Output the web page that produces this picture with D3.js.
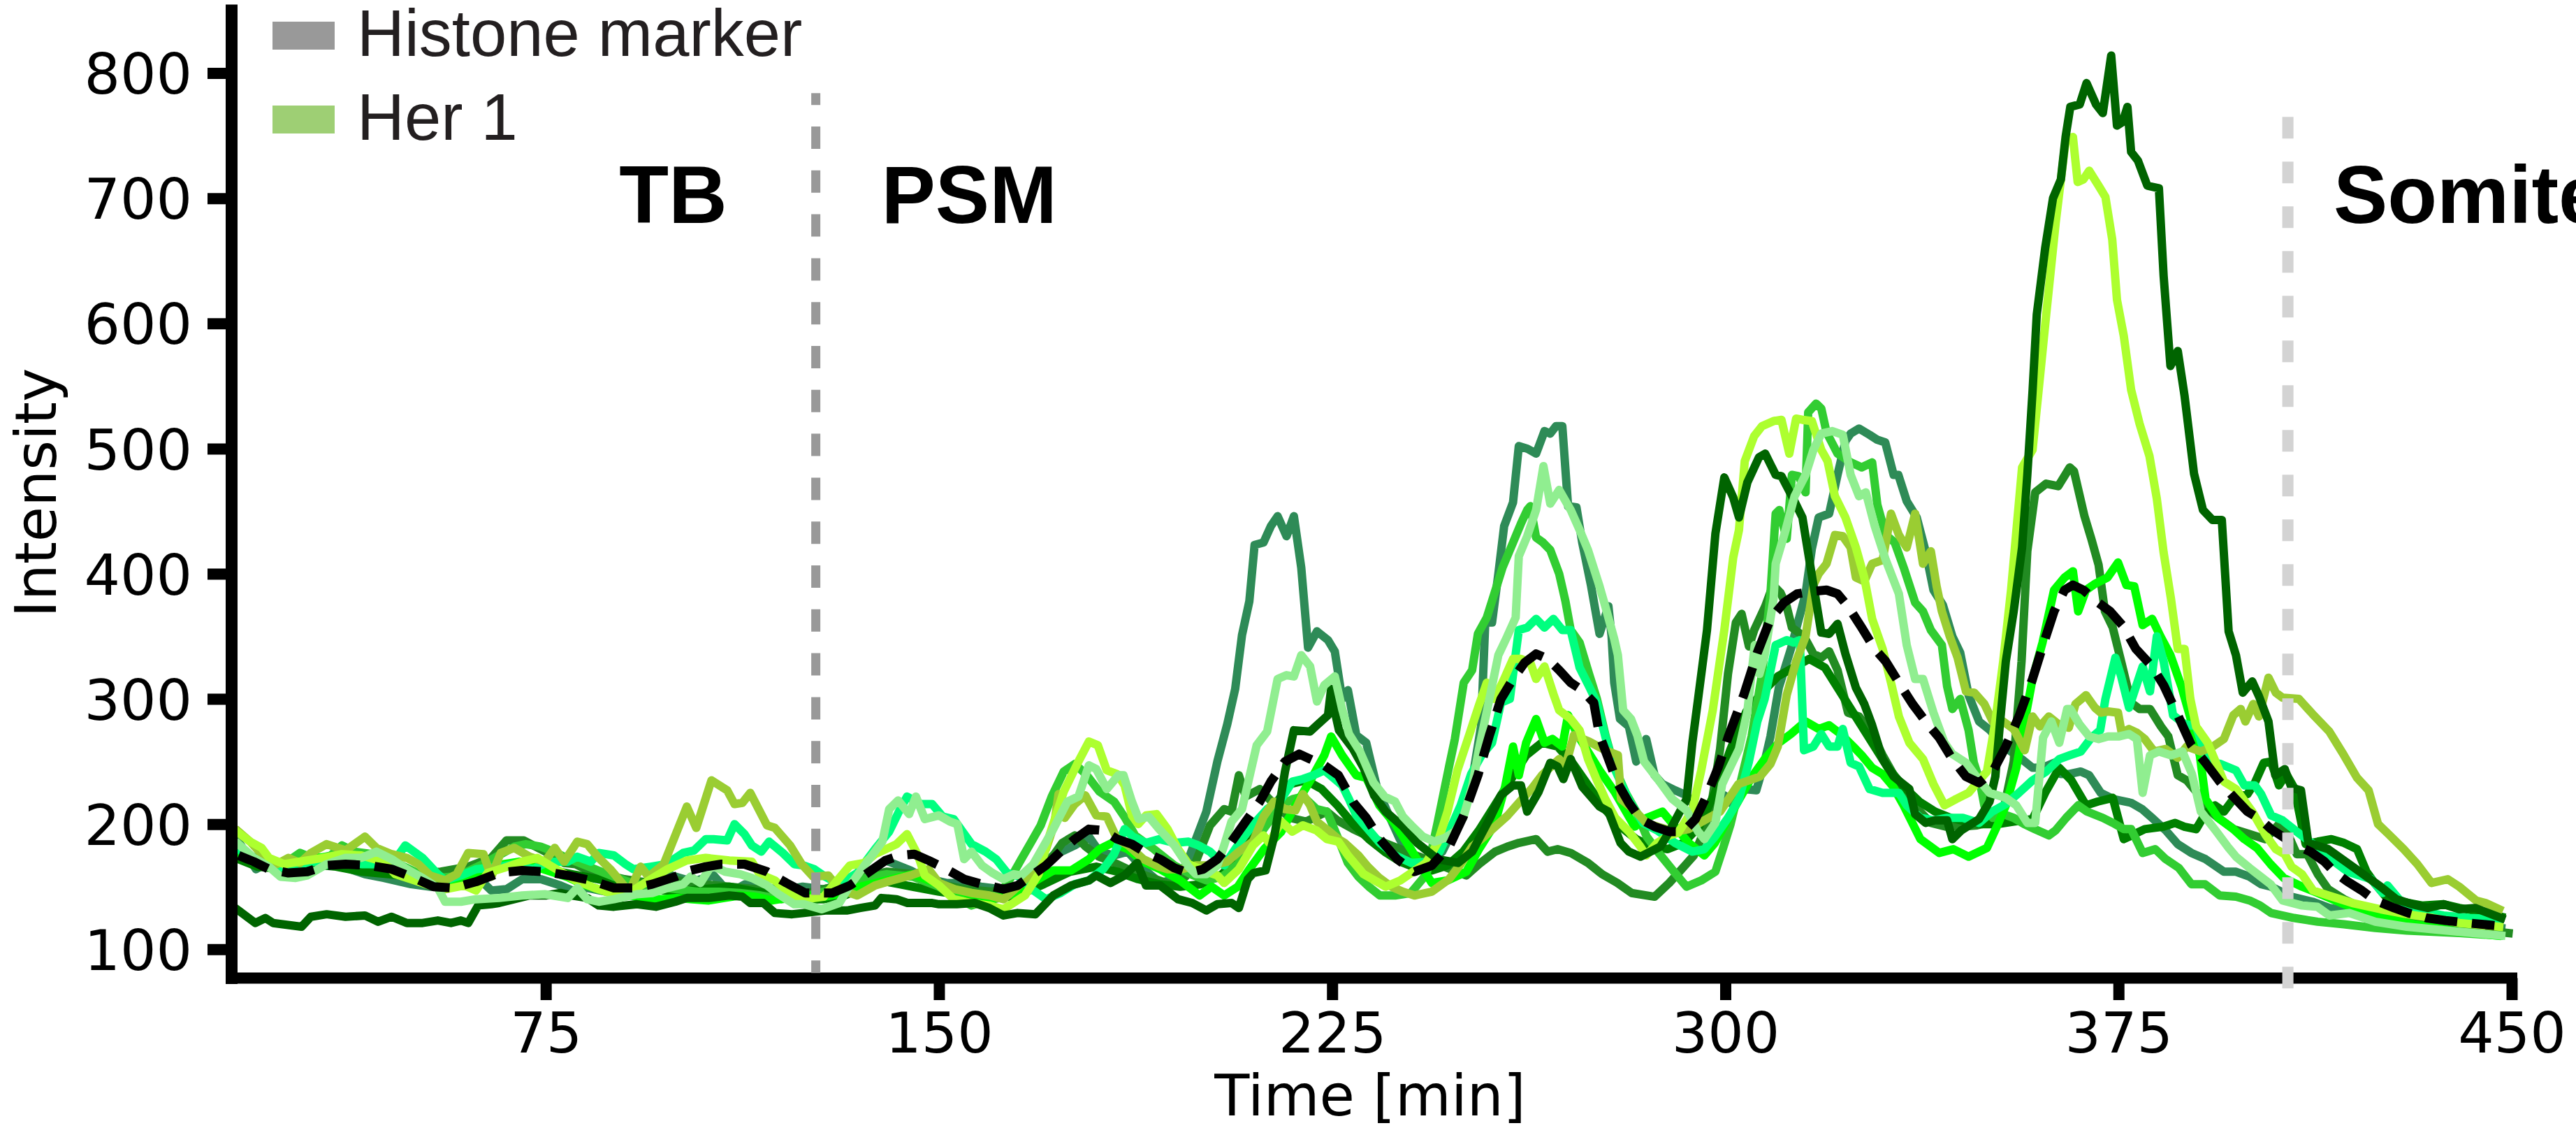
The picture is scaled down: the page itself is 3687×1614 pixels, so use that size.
<!DOCTYPE html>
<html><head><meta charset="utf-8">
<script src="https://cdn.jsdelivr.net/npm/d3@7"></script>
<style>html,body{margin:0;padding:0;background:#fff;}svg{display:block;}</style>
</head><body>
<script>
// ---------- axis / annotation data ----------
const xTicks = [75, 150, 225, 300, 375, 450];
const yTicks = [100, 200, 300, 400, 500, 600, 700, 800];
const xDomain = [15, 450];
const yDomain = [77, 850];
const xLabel = "Time [min]";
const yLabel = "Intensity";
const legendItems = [
  { label: "Histone marker", color: "#999999" },
  { label: "Her 1", color: "#9ecf74" }
];
const regionLabels = [
  { label: "TB", t: 89, v: 680 },
  { label: "PSM", t: 139, v: 680 },
  { label: "Somite", t: 416, v: 680 }
];
const boundaries = [
  { t: 126.5, from: 81, to: 784, color: "#999999", width: 13, dash: "32,30.8", offset: 15 },
  { t: 407.3, from: 68, to: 765, color: "#d3d3d3", width: 16, dash: "31,33", offset: 0 }
];

// ---------- series values [time, intensity] ----------
const darkgreenVals = [[16.4,131],[19.6,121],[21.5,125],[23,121],[28.4,118],[30.2,126],[33.2,128],[36.8,126],[40.5,127],[43,122],[45.6,126],[48.5,121],[51.5,121],[54.4,123],[56.9,121],[58.8,123],[60.2,121],[62.1,135],[64.6,136],[66.1,137],[71.9,143],[75,143],[77.8,145],[80,143],[82.9,141],[85.1,135],[88,134],[92.4,136],[96,134],[99.7,138],[101.9,141],[106,141],[110,143],[112.5,142],[114,137],[116.5,137],[118.7,129],[122,128],[124.2,129],[128.3,131],[132.4,131],[135,133],[137.8,135],[139,141],[141.9,140],[144,137],[148.7,137],[150,136],[153.4,136],[156.8,137],[159.6,133],[162.3,127],[165,129],[168.4,128],[171.8,143],[175.2,151],[178.6,155],[180,159],[182.7,153],[185.4,159],[187.8,169],[189.5,151],[192.2,151],[195.6,140],[198.3,137],[201,131],[203.1,136],[205.8,137],[207.2,133],[208.9,156],[210,161],[212.3,163],[214,191],[216,242],[217.7,275],[220.8,274],[222.1,279],[224.2,287],[224.8,308],[225.5,290],[226.3,275],[229,260],[231,245],[233,223],[235.2,210],[238.5,198],[241.2,185],[245.1,172],[249,169],[251.7,178],[255,204],[257.2,223],[259.5,231],[261,231],[262.2,210],[264.4,226],[266.6,249],[268,246],[269.1,236],[270.5,252],[272.7,230],[276,214],[277.7,210],[280,185],[281.6,178],[283.8,174],[287.6,182],[289.3,194],[292.6,220],[293.7,265],[294.8,300],[296.5,355],[298.1,432],[299.8,477],[301.5,461],[302.6,445],[304.2,473],[306.4,493],[307.6,496],[309.6,479],[310.7,478],[312.7,462],[314.7,445],[316.8,391],[318.3,353],[319.8,352],[321.4,360],[322.9,336],[324.9,309],[326.5,296],[328,279],[330,252],[332.1,238],[335.1,228],[336.2,208],[338.2,201],[340,203],[342.3,203],[343.3,188],[345,195],[348.4,204],[350.4,218],[351.5,238],[352.5,286],[353.5,330],[355,370],[356.6,421],[357.6,479],[358.6,546],[359.4,607],[361,660],[362.5,700],[364,715],[364.9,749],[365.8,773],[367.6,775],[368.9,792],[370.7,775],[372,768],[373.6,814],[374.7,758],[375.8,761],[376.7,773],[377.4,737],[378.7,730],[380.5,710],[382.7,708],[383.6,638],[384.9,566],[386.3,578],[387.6,542],[389.4,480],[391.1,451],[392.9,443],[394.7,443],[396,354],[397.4,335],[398.7,305],[400.5,314],[401.8,302],[403.6,282],[404.9,239],[406.7,244],[408,229],[409.8,227],[411.2,185],[415,180],[420,165],[425,150],[428,140],[431,136],[434,133],[437,136],[440,132],[443,133],[448,125]];

const greenyellowVals = [[16.4,193],[18.6,186],[20.8,181],[22.2,173],[25.1,168],[28,170],[32.4,173],[36.1,176],[39.8,175],[44.1,170],[46.3,160],[50,155],[52.9,151],[55.8,148],[59.5,151],[61.7,147],[63.9,161],[67,165],[70.5,170],[73.4,173],[77,164],[80.7,155],[84.3,149],[88,144],[90.9,145],[93.9,153],[98.2,164],[101.9,171],[105.5,173],[110,171],[114.3,170],[115.8,160],[118.7,155],[121.6,144],[124.5,140],[128,142],[133,167],[135.8,169],[137.8,176],[141.9,184],[143.9,192],[146,175],[147.3,159],[150,151],[152.8,140],[156.2,137],[159.6,135],[162.3,132],[166.4,143],[169,160],[171,190],[173.8,226],[176.6,250],[178.6,266],[180.3,263],[182,243],[184,240],[185.4,231],[186.8,207],[188,200],[189.5,207],[191.5,208],[193.6,196],[195.6,180],[197.6,168],[201.7,161],[203.1,159],[204.4,153],[207.2,164],[209.9,183],[211.9,191],[213,185],[215.3,202],[217.4,194],[219.4,199],[222,195],[224,188],[226.2,186],[228,175],[231,160],[235.2,150],[238,155],[242.9,169],[245.1,185],[247,210],[248.9,243],[251.2,272],[253,295],[254.5,313],[256,300],[257.8,316],[259.5,332],[261,332],[262.8,329],[263.9,316],[265.5,326],[267.2,304],[268.3,291],[270.5,284],[272.2,275],[273.8,252],[275.5,235],[277.1,220],[279,205],[281.6,194],[283.8,182],[284.9,175],[287,185],[289.3,191],[291,193],[293.7,211],[295.4,243],[297.6,291],[299.8,355],[301.5,413],[302.6,435],[303.7,490],[305.5,510],[307,518],[309.2,522],[310.7,523],[312.2,496],[313.5,524],[314.7,523],[316.5,522],[318.3,499],[319.5,490],[320.9,462],[322.9,445],[324.9,421],[326.5,397],[328,364],[330,340],[331.6,313],[333.1,286],[335.1,265],[337.7,252],[339.7,232],[341.8,215],[344,220],[346.4,225],[348,233],[349.9,242],[351.5,282],[353,330],[354.5,387],[356.6,485],[358.6,499],[359.6,540],[361.2,607],[363,680],[364.9,746],[366.3,749],[367.2,713],[368.3,715],[369.4,722],[371.2,710],[372.5,701],[373.8,667],[374.7,619],[376,590],[377.4,547],[379,520],[380.9,494],[382.3,460],[383.6,417],[385,380],[386.3,340],[387.6,340],[388.7,300],[389.8,278],[392,265],[394,245],[395.1,234],[397.4,228],[400.5,210],[403.1,191],[405,180],[406.7,176],[408,166],[410,160],[412.1,147],[415,143],[419.6,137],[425,132],[430,128],[435,125],[440,121],[447.6,118]];

const yellowgreenVals = [[16.4,194],[18.6,186],[21.5,173],[23.7,168],[25.9,173],[28.1,169],[30.2,177],[33.2,184],[36.8,179],[40.5,190],[42.7,181],[45.6,176],[48.5,173],[50.7,168],[52.9,159],[55.8,155],[58,160],[60.2,177],[63.1,176],[64.6,158],[66.4,177],[69,181],[71.9,174],[74.8,170],[76.7,181],[78.5,170],[81,186],[82.9,184],[85.1,173],[87.3,164],[90.9,146],[93.1,166],[94.6,158],[97.5,168],[101.9,214],[103.7,197],[106.6,235],[109.6,227],[111,216],[112.5,217],[114,225],[117.2,199],[118.7,197],[121.6,183],[123.8,168],[126,158],[128.9,159],[131,148],[134.4,143],[137.8,151],[141,155],[144.6,159],[148,164],[150,153],[153,148],[156.2,145],[159.6,143],[162.3,140],[165,150],[167.7,161],[170.4,180],[172,200],[172.8,224],[174,205],[175.9,216],[177.9,223],[180,207],[182,206],[184,188],[186.1,183],[189,172],[192,166],[193.6,164],[196.3,164],[199,167],[202,167],[205,170],[207.2,178],[209.9,186],[211.9,206],[213.9,218],[216,212],[218,211],[219.4,224],[220.8,215],[222.1,202],[224.2,195],[226.2,188],[227.4,185],[230,175],[231.8,166],[234,157],[236.3,150],[238.5,146],[240.7,143],[244,146],[247.3,156],[249.5,168],[251.7,182],[254,190],[256.1,198],[258.5,207],[260.6,217],[263,228],[265,239],[266.5,245],[268.3,252],[269.5,246],[271.1,271],[274,266],[277.1,259],[279.5,255],[280.1,220],[282.7,211],[284.9,201],[287,198],[290.4,194],[293,196],[296,203],[299,210],[302.5,232],[306.6,238],[308.6,248],[310,262],[311.7,303],[313.5,330],[315.3,350],[316.8,391],[317.8,400],[319.3,408],[320.9,431],[322.4,430],[323.9,421],[324.9,397],[326.5,394],[328,408],[330,411],[331.6,448],[333.1,431],[334.6,421],[336.2,448],[337.7,408],[339.2,418],[340.3,390],[341.3,370],[342.8,350],[344.3,333],[345.9,306],[347.5,305],[349.4,296],[351,282],[353,282],[355,276],[357.1,259],[358.6,286],[360,278],[361.7,286],[363.5,280],[365.5,277],[366.8,296],[368.8,303],[370.5,293],[371.6,289],[373,290],[374.9,289],[375.6,273],[377,276],[378.5,273],[380,268],[381.8,258],[384,260],[386.3,253],[388,262],[390.7,258],[393,262],[395.1,268],[396.9,287],[398.3,292],[399.2,282],[400.7,296],[401.8,286],[403.6,317],[405,305],[406.3,301],[409.4,300],[412,288],[415.2,274],[418,255],[420.5,237],[422.7,227],[424.5,200],[426.5,192],[429.4,180],[432,168],[434.7,153],[437.8,156],[440,150],[443.2,139],[445,137],[447.6,132]];

const seagreenVals = [[16.4,186],[19.7,164],[22.2,170],[25.9,165],[29,166],[33,170],[37,165],[40.5,160],[44.1,157],[49.3,152],[53,150],[56,152],[60,151],[63.1,153],[64.6,147],[67.5,148],[70.5,156],[74.1,156],[77.8,151],[80,147],[83,149],[86.5,146],[90,148],[95,152],[99,159],[103,154],[107,159],[110,145],[113,152],[116.5,150],[120,147],[124,150],[128,148],[132,152],[136,160],[139.8,171],[144.6,163],[147.3,157],[151.4,153],[154.1,153],[158,150],[162,148],[165,148],[168,160],[171.8,175],[175.9,183],[178.6,190],[180.6,178],[183.4,175],[186,178],[188.8,165],[192.2,153],[194,155],[196.3,161],[197.6,172],[199,188],[201,210],[203.1,250],[205,280],[206.5,308],[207.8,351],[209.2,378],[210.2,423],[211.9,425],[213.3,438],[214.6,446],[216.3,430],[217.7,446],[219.1,405],[220.4,341],[222.1,354],[224.2,347],[225.5,338],[226.9,300],[228,307],[229.6,271],[231.5,265],[233.5,230],[235.5,210],[237.9,188],[239.6,175],[241.5,172],[244,172],[246,178],[249.5,207],[251.5,230],[253.4,278],[254.2,361],[255.5,361],[256.7,400],[257.8,438],[259.5,457],[260.6,502],[262.2,500],[263.9,496],[265.5,514],[266.6,512],[267.7,518],[268.9,518],[270,454],[271.6,453],[272.7,425],[274.4,390],[276,352],[277.7,374],[278.3,350],[278.8,313],[279.9,284],[281.6,278],[283,250],[284.9,268],[286.5,239],[288,232],[290.4,227],[292.6,223],[295.4,207],[297.5,205],[299.8,223],[301.5,215],[303.5,228],[305.9,227],[307.5,250],[308.6,270],[310.2,309],[312.5,340],[315.3,384],[316.5,420],[317.8,445],[319.8,448],[321.4,479],[322.9,506],[323.9,512],[325.5,516],[327.5,511],[329,507],[330.5,505],[332.1,479],[333,479],[334.6,458],[336.5,445],[338.2,418],[339.7,387],[341.5,375],[343.3,350],[344.8,337],[346.4,303],[348.4,282],[350.5,275],[352.5,265],[354.5,258],[356.5,252],[358.6,245],[360.5,245],[362.7,249],[364,240],[365.5,240],[367.8,242],[369.4,239],[371.6,225],[374,220],[377.4,217],[379.5,212],[381.4,205],[384,195],[386.3,184],[388.9,177],[391.6,172],[395.1,162],[397.4,162],[400,158],[402.2,152],[404.1,150],[408,142],[412,138],[415.2,133],[420,130],[425,128],[430,125],[435,122],[440,120],[448,117]];

const lightgreenVals = [[16.4,184],[19.3,173],[22.2,166],[24.4,158],[27.3,157],[29.5,159],[33.2,168],[36.8,173],[39.8,173],[42.7,178],[45.6,172],[48.5,164],[51.5,157],[54.4,149],[55.8,138],[58.8,138],[61.7,140],[66.1,141],[70.5,143],[74.8,144],[79.2,141],[81,149],[82.9,140],[85.1,138],[88,140],[92.4,144],[95.3,145],[98.2,149],[101.2,152],[102.6,158],[104.5,153],[106.6,167],[109.2,162],[112.1,160],[114.3,157],[117.2,151],[119.4,144],[122.4,136],[124.2,136],[127.6,132],[131,137],[133,151],[135.8,167],[139.2,186],[140.5,212],[142.2,219],[144.3,208],[145.6,222],[147.3,204],[150,207],[152.1,202],[153.5,200],[154.8,172],[156.2,178],[158.2,167],[160.2,161],[162.3,156],[164.3,160],[165.7,159],[168,168],[171.8,196],[174.5,218],[176.6,222],[178.6,247],[180,244],[182,228],[184.2,239],[185.2,239],[186.8,218],[188.1,204],[190,206],[192,196],[194.9,183],[197.6,166],[199,160],[201,160],[203.1,167],[204.4,183],[205.8,202],[207.8,212],[210.6,263],[212.6,274],[214.6,316],[216.3,319],[217.7,318],[219.1,335],[220.8,326],[222.1,298],[223.5,311],[225.5,318],[226.9,292],[228.2,272],[230.3,258],[232.9,233],[235,222],[237,218],[238.5,206],[240.1,199],[242.3,190],[244.5,186],[246.5,189],[248.4,194],[250,205],[251.7,230],[253,260],[255,300],[256.7,335],[258.4,350],[260,365],[260.6,414],[262.2,430],[263.9,451],[265.3,486],[266.6,456],[268.3,467],[270.5,451],[272.2,435],[273.8,419],[276,390],[277.1,374],[278.8,348],[279.5,335],[280.5,291],[282,284],[283.2,271],[284.5,250],[287.1,236],[289.9,220],[292.6,211],[294.8,194],[296,188],[298.1,201],[299.4,232],[300.3,240],[302.6,260],[304.2,290],[305.6,343],[306.5,320],[307.5,335],[309.2,380],[309.6,408],[311.5,435],[313.2,462],[315.3,479],[316.8,499],[318.3,512],[320.4,514],[322.4,511],[323.9,479],[325.5,462],[326.8,465],[328.5,438],[330.6,411],[333.1,384],[334.6,343],[336.2,316],[337.7,316],[339.7,289],[341.8,265],[343.3,256],[345.9,249],[348.4,235],[350.4,225],[353.5,221],[355.5,215],[357.6,201],[359.1,201],[360.6,269],[362.2,282],[363.7,265],[365.2,292],[365.8,292],[367.5,280],[369.4,270],[371.2,268],[373,270],[375,270],[377,272],[378.5,268],[379.6,225],[381,255],[382.7,258],[385,255],[387.2,258],[389,240],[390.7,210],[393.5,195],[396,181],[397.4,174],[400,165],[404,152],[406.3,139],[410,135],[412.9,134],[415.2,127],[419,129],[424,122],[430,118],[440,114],[448,111]];

const springgreenVals = [[16.4,180],[19,172],[22,168],[25,165],[28,168],[31,170],[34,167],[37,170],[40,168],[43.5,168],[46,170],[48.2,183],[51.5,173],[54.4,160],[55.8,155],[58.8,159],[61.7,164],[66.1,166],[69,168],[72.6,164],[75.5,170],[79.2,170],[81,174],[83.6,170],[85.1,177],[88,175],[90.2,168],[91.7,164],[95,166],[98,168],[101.2,177],[103.3,179],[105.5,188],[107,188],[109.6,187],[111,200],[112.9,192],[114.3,183],[116.1,178],[117.6,186],[120.2,177],[122.4,168],[124.2,167],[126.2,164],[128.3,158],[131,152],[134.4,161],[137.8,180],[140.5,194],[142.6,212],[143.9,222],[146.6,216],[148.7,216],[150.7,206],[152.8,204],[154.5,194],[156.2,184],[158.9,178],[160.9,172],[163,161],[165.5,158],[167.7,148],[170.4,140],[173.2,145],[175.9,152],[178.6,155],[181.3,164],[183.4,176],[185.4,196],[187,190],[189.5,185],[192,188],[195,185],[197.6,186],[199.5,183],[201.7,178],[204.4,167],[207.8,188],[210,200],[212.6,212],[215.3,220],[217.4,234],[219.4,236],[221.4,239],[223.5,243],[225.5,236],[226.9,231],[228.2,220],[229.6,207],[231,200],[234.1,185],[237,175],[240.1,169],[243.5,170],[245.5,178],[247.3,194],[249.5,215],[251.5,240],[253.5,255],[255.5,265],[257.2,297],[258.9,300],[260.6,355],[262.2,357],[263.9,364],[265.5,357],[267.2,364],[268.9,355],[270.5,355],[272.2,325],[274,310],[275.5,297],[277.1,270],[278.8,245],[281.5,220],[284.3,201],[287,195],[290.4,185],[293.7,178],[296,180],[298,190],[300.5,205],[302.6,220],[304.5,250],[306.1,282],[307.5,300],[309.6,343],[311.7,347],[313,345],[314.2,347],[315,259],[316.8,262],[318.3,272],[319.8,262],[321.4,262],[322.4,276],[323.9,249],[325.5,246],[327.5,228],[330,225],[333.1,225],[334.6,215],[337.2,205],[339.7,203],[342.3,205],[345.3,205],[348.4,201],[350.9,210],[353.5,216],[356,225],[358.6,235],[361.2,242],[363.7,252],[365.7,255],[367.8,258],[369.8,269],[371.5,275],[372.5,300],[374.4,333],[375.5,318],[377,293],[379.6,326],[381,306],[382.3,350],[383.6,330],[385.4,287],[387.6,280],[389.8,278],[392,250],[394.5,248],[397.4,243],[399,231],[401,231],[402.2,224],[404.1,207],[406.3,203],[409,194],[412.1,184],[415.2,173],[418.7,162],[423.2,156],[425.4,145],[426.3,151],[428.5,140],[431.6,131],[437,127],[442,125],[447.6,124]];

const limegreenVals = [[16.4,178],[19,172],[22,170],[25,168],[28.1,177],[31,172],[34,175],[36.1,183],[38.5,178],[42,176],[45,172],[48,166],[51,160],[54,157],[57,158],[60,162],[63,168],[66,175],[69,182],[71.2,184],[74,182],[76.5,178],[79,173],[82,168],[85,163],[88,158],[92,152],[96,150],[100,148],[104,146],[108,146],[112,145],[116,143],[120,140],[124,142],[128,146],[132,150],[136,157],[140,160],[145,158],[150,150],[154,140],[156.2,135],[160,140],[163,152],[165.7,172],[167.5,185],[169.4,199],[171.5,222],[173.8,242],[175.9,248],[178,240],[180.6,226],[183.4,218],[185.5,205],[187.4,191],[191,180],[194.9,167],[198,160],[201,155],[204,158],[207,168],[210,185],[213.3,204],[215.3,215],[217.5,220],[219.5,222],[222,212],[224,210],[226,190],[228,169],[230,158],[232,150],[234.1,143],[237,143],[240,145],[243,160],[245.1,201],[247.3,246],[248.4,268],[250.1,313],[251.7,323],[252.8,352],[254.5,365],[256,385],[257.5,405],[259.5,425],[261,440],[262.2,451],[262.8,454],[263.9,429],[265.2,425],[266.6,419],[268.3,400],[269.5,378],[270.5,355],[272.2,345],[274,320],[275.5,300],[277.2,270],[278.8,246],[281,225],[283,210],[285,190],[287.1,178],[290,163],[292.6,150],[295.4,155],[298.1,162],[299.5,180],[301,200],[303,235],[305,270],[307,320],[308.6,384],[309.6,448],[310.3,451],[311.7,428],[312.7,479],[314,478],[315.3,465],[315.8,529],[317.3,536],[318.3,532],[319.3,513],[321.4,496],[323.9,489],[326,485],[328,489],[329,455],[330.6,431],[332.3,425],[334.1,404],[336.2,377],[337.7,370],[339.2,355],[341.3,343],[342.3,310],[343.3,292],[344.8,300],[346.4,275],[347.4,249],[348.5,235],[349.4,215],[351,205],[353,208],[355,205],[357,200],[359,196],[361.7,191],[363,195],[365,205],[367.3,215],[369,210],[372,205],[373.9,201],[376,196],[377.4,196],[379.6,177],[382,180],[384,172],[386.5,165],[388.9,152],[391.5,152],[394.3,143],[397.4,142],[400,139],[402,135],[404.1,129],[408.5,125],[413,122],[418,120],[424,117],[430,115],[440,113],[447.6,111]];

const limeVals = [[16.4,176],[19,170],[22,168],[25,166],[28,170],[31,173],[34,174],[37,172],[40,170],[43,168],[46,164],[49,158],[52,155],[55,154],[58,156],[61,160],[64,165],[67,168],[70,170],[73,166],[76,162],[79,158],[82,152],[85,148],[88,145],[91,143],[94,141],[97,140],[100,141],[103,140],[106,139],[109,141],[112,143],[115,142],[118,139],[121,141],[124.5,143],[128,142],[131,144],[135,150],[140,155],[145,160],[150,152],[155,145],[160,140],[165,145],[168.5,155],[171.8,163],[175.2,163],[178.6,172],[180.6,180],[183,185],[186,180],[189,170],[192.2,164],[196,155],[199.7,143],[202,150],[204.4,143],[207,150],[209.2,164],[212,180],[215.3,194],[218,215],[221.4,239],[223.5,255],[224.8,270],[226.9,255],[229.6,239],[231.5,237],[234,215],[237,200],[240,180],[244,153],[247,155],[250.6,162],[253,180],[256,200],[258,230],[259.5,262],[260.6,239],[262,265],[263.9,284],[265.5,265],[267,268],[268.9,262],[270,287],[272,270],[276,243],[279,225],[282.7,198],[285,205],[288,210],[290,200],[293,185],[296,175],[298,185],[300,200],[302,215],[305.1,238],[307.5,252],[310.2,265],[312.5,272],[315.3,282],[317.8,276],[319.8,279],[322,272],[324.4,262],[326,255],[328,245],[330,240],[332,230],[334,215],[337.2,188],[340.8,177],[343.5,180],[346.4,174],[349.9,181],[352,200],[353.5,215],[355.5,245],[357,280],[358.6,316],[360.5,345],[362.7,387],[364.7,397],[366.3,402],[367.3,370],[368.8,387],[370.5,392],[372.9,397],[374.9,409],[376.5,391],[378,390],[379.6,359],[381.4,364],[383,350],[384.9,335],[387,310],[388.9,282],[390.5,255],[391.6,220],[394,205],[396.9,196],[399,188],[401.4,181],[404,168],[406.5,157],[410,150],[413,145],[418,136],[424,128],[430,121],[440,114],[447.2,111]];

const forestgreenVals = [[16.4,180],[20,172],[25,168],[30,172],[35,170],[40,168],[45,166],[50,160],[55,162],[60.2,166],[64.6,173],[67.5,187],[70.8,187],[72.6,183],[76.3,175],[78.5,169],[80.7,168],[83.6,162],[86,160],[90,156],[95,153],[100,155],[105,152],[110,150],[115,148],[120,146],[124,144],[128,148],[132,152],[136,158],[140,162],[145,160],[150,152],[155,148],[160,146],[165,150],[168,158],[171,170],[173.5,185],[175.9,191],[178,182],[180.5,174],[183,170],[186,164],[190,158],[194,152],[197,158],[199,170],[201.7,199],[204.4,212],[205.8,210],[207.2,239],[208.5,222],[211.2,228],[213,220],[215,212],[217,205],[220,202],[223,208],[224,210],[226,203],[229,196],[232,190],[235,185],[238,180],[241,175],[244,170],[247,165],[250.6,159],[253,168],[256.1,178],[258.4,182],[260.6,185],[263.9,188],[266.1,178],[268,180],[270.5,177],[273.8,169],[276.5,160],[279.4,153],[282.1,145],[286.5,142],[289.3,153],[292.1,166],[294,175],[295.9,194],[297.5,220],[299,260],[300.5,320],[302,361],[303.1,368],[304.5,342],[305.5,355],[307.6,374],[309.1,391],[310.5,385],[311.7,374],[312.7,357],[315,350],[316.8,336],[318.3,333],[319.8,338],[321.4,323],[323.4,289],[325.5,286],[328,272],[330,255],[333.1,232],[336,215],[339.2,201],[342,198],[345,198],[348,199],[351,202],[353,210],[355,250],[356.5,330],[357.6,418],[359.1,465],[361.2,472],[363.5,470],[365.7,485],[366.5,482],[368.5,446],[369.8,428],[371.2,407],[372.4,370],[373.9,357],[375.5,330],[377.4,297],[379,292],[381,292],[383.1,278],[384.5,270],[386.3,239],[388,235],[390,225],[392,212],[394,205],[397,196],[400,192],[403,188],[405.6,200],[407,195],[409,176],[411,176],[413,160],[415,148],[418,140],[422,132],[426,128],[430,125],[435,121],[440,118],[445,115],[449.4,113]];

const greenVals = [[16.4,172],[20,166],[25,164],[30,168],[35,166],[40,162],[45,160],[50,158],[55,155],[60,158],[65,165],[70,168],[75,164],[80,160],[85,156],[90,152],[95,148],[100,146],[105,148],[110,150],[115,146],[120,144],[124,140],[128,140],[132,143],[136,150],[140,154],[145,150],[150,146],[155,143],[160,140],[165,143],[170,152],[175,162],[180,166],[184,162],[188,156],[192,152],[196,150],[200,152],[204,160],[208,178],[211,195],[214,215],[217,232],[220,235],[223,228],[226,215],[229,200],[232,188],[235,178],[238,170],[241,165],[244,163],[247,167],[250,178],[253,195],[256,215],[259,235],[262,255],[265,265],[268,262],[271,248],[274,230],[277,212],[280,198],[283,188],[286,182],[289,180],[292,185],[295,198],[298,225],[301,260],[304,290],[307,305],[310,318],[313,325],[316,332],[319,325],[322,305],[325,285],[328,265],[331,245],[334,230],[337,218],[340,210],[343,205],[346,202],[349,200],[352,200],[355,202],[358.6,204],[361,225],[363.7,245],[366,235],[368.8,215],[371,218],[373.9,221],[376,188],[378,192],[380,196],[383.6,198],[385.8,201],[387.5,198],[389.8,196],[391.5,208],[393.4,215],[395.1,210],[396.9,220],[399.6,224],[401,233],[402.7,249],[404.1,250],[405.6,231],[407,240],[408.5,229],[410.7,184],[413,186],[415.6,188],[418,185],[420.5,180],[422.3,162],[424,152],[425.8,143],[429,138],[432.9,135],[437,136],[440,133],[444,130],[448,126]];

const meanVals = [[16.4,175],[19.3,170],[22.2,164],[25.9,161],[29.5,162],[33.2,167],[36.8,168],[41.2,167],[45.6,164],[49.3,158],[53.6,150],[57.3,149],[61.7,154],[66.1,161],[70.5,163],[74.8,162],[79.2,159],[83.6,155],[88,149],[91.7,149],[95.3,152],[99.7,158],[102.6,163],[105.5,166],[108.5,168],[112.9,168],[117.2,162],[120.9,153],[124.5,145],[129.6,145],[133,151],[136.4,161],[139.8,171],[142.6,175],[145.3,176],[148,171],[151.4,164],[154.8,156],[158.2,152],[162.3,148],[165,151],[167.7,159],[170.4,167],[173.2,178],[175.9,188],[178.6,196],[181.3,195],[184,188],[186.8,184],[189.5,177],[192.2,172],[194.9,165],[197.6,161],[200.4,164],[203.1,172],[205.8,186],[208.5,202],[211.2,218],[213.3,234],[216,250],[218.7,256],[220.8,252],[223.5,247],[226.2,239],[229.1,217],[231.5,205],[234.1,188],[237.4,172],[240.7,162],[244,167],[247.3,182],[250.1,207],[252.8,239],[255,271],[257.2,300],[259.5,316],[261.7,329],[263.9,336],[266.1,332],[268.3,323],[270.5,313],[272.7,307],[274.9,297],[276,271],[277.7,252],[279.4,233],[281.6,217],[283.8,204],[286.5,198],[289.3,194],[292,194],[294.3,204],[296.5,223],[298.7,246],[300.5,269],[303.5,303],[306.1,337],[308.6,364],[311.2,377],[313.7,384],[316.8,386],[319.3,387],[321.4,384],[323.4,374],[326,357],[328.5,340],[330.6,330],[333.1,313],[335.7,296],[338.2,282],[340.8,269],[343.3,252],[345.9,238],[348.4,233],[351,242],[353.5,262],[356,286],[358.6,316],[360.6,343],[362.7,370],[364.7,387],[366.3,391],[368.3,387],[370.8,378],[373.4,370],[375.9,358],[378.3,340],[381.4,326],[383.6,311],[386.3,287],[388.9,263],[391.6,249],[394.3,234],[396.9,222],[399.6,210],[402,204],[404.1,196],[406.3,190],[408.5,184],[411.6,178],[414.3,170],[416.1,162],[418.7,154],[421.4,147],[424,139],[427.6,133],[430.3,129],[433.8,125],[437.4,123],[441.8,121],[446.7,119]];

const seriesNames = ["seagreen","forestgreen","green","limegreen","lime","springgreen","yellowgreen","greenyellow","darkgreen","lightgreen"];
const seriesColors = ["#2e8b57","#228b22","#008000","#32cd32","#00ff00","#00ff7f","#9acd32","#adff2f","#006400","#90ee90"];
const seriesValues = [seagreenVals, forestgreenVals, greenVals, limegreenVals, limeVals, springgreenVals, yellowgreenVals, greenyellowVals, darkgreenVals, lightgreenVals];

// ---------- drawing ----------
const W = 3687, H = 1614;
const svg = d3.select("body").append("svg").attr("width", W).attr("height", H)
  .style("background", "#fff");

const x = d3.scaleLinear().domain(xDomain).range([331, 3595]);
const y = d3.scaleLinear().domain(yDomain).range([1399.5, 15]);

const line = d3.line().x(d => x(d[0])).y(d => y(d[1]));

const lineG = svg.append("g");
seriesValues.forEach((vals, i) => {
  lineG.append("path")
    .attr("d", line(vals))
    .attr("fill", "none")
    .attr("stroke", seriesColors[i])
    .attr("stroke-width", 12)
    .attr("stroke-linejoin", "round")
    .attr("stroke-linecap", "square")
    .attr("data-name", seriesNames[i]);
});
lineG.append("path")
  .attr("d", line(meanVals))
  .attr("fill", "none")
  .attr("stroke", "#000")
  .attr("stroke-width", 13)
  .attr("stroke-dasharray", "46,21")
  .attr("stroke-linejoin", "round");

// axes
const tickFont = "'DejaVu Sans', sans-serif";
const yAxis = d3.axisLeft(y).tickValues(yTicks).tickSize(34.5).tickPadding(22).tickSizeOuter(0);
const gy = svg.append("g").attr("transform", "translate(331.5,0)").call(yAxis);
gy.select(".domain").remove();
gy.selectAll(".tick line").attr("stroke", "#000").attr("stroke-width", 16);
gy.selectAll(".tick text").attr("font-family", tickFont).attr("font-size", 81)
  .attr("fill", "#000").attr("dy", "0.36em");

const xAxis = d3.axisBottom(x).tickValues(xTicks).tickSize(31.5).tickPadding(17).tickSizeOuter(0);
const gx = svg.append("g").attr("transform", "translate(0,1399.5)").call(xAxis);
gx.select(".domain").remove();
gx.selectAll(".tick line").attr("stroke", "#000").attr("stroke-width", 16);
gx.selectAll(".tick text").attr("font-family", tickFont).attr("font-size", 81).attr("fill", "#000");

// spines
svg.append("line").attr("x1", 331.5).attr("x2", 331.5)
  .attr("y1", y(yDomain[1])).attr("y2", y(yDomain[0]))
  .attr("stroke", "#000").attr("stroke-width", 17).attr("stroke-linecap", "square");
svg.append("line").attr("x1", x(xDomain[0])).attr("x2", x(xDomain[1]))
  .attr("y1", 1399.5).attr("y2", 1399.5)
  .attr("stroke", "#000").attr("stroke-width", 16).attr("stroke-linecap", "square");

// boundaries
boundaries.forEach(b => {
  svg.append("line")
    .attr("x1", x(b.t)).attr("x2", x(b.t))
    .attr("y1", y(b.to)).attr("y2", y(b.from))
    .attr("stroke", b.color).attr("stroke-width", b.width)
    .attr("stroke-dasharray", b.dash).attr("stroke-dashoffset", b.offset);
});

// axis labels
svg.append("text").attr("x", 1961).attr("y", 1596).attr("text-anchor", "middle")
  .attr("font-family", tickFont).attr("font-size", 82).attr("fill", "#000").text(xLabel);
svg.append("text").attr("transform", "translate(80,705) rotate(-90)").attr("text-anchor", "middle")
  .attr("font-family", tickFont).attr("font-size", 82).attr("fill", "#000").text(yLabel);

// region labels
regionLabels.forEach(r => {
  svg.append("text").attr("x", x(r.t)).attr("y", y(r.v))
    .attr("font-family", "'Liberation Sans', Arial, sans-serif").attr("font-weight", "bold")
    .attr("font-size", 116).attr("fill", "#000").text(r.label);
});

// legend
const legFont = "'Liberation Sans', Arial, sans-serif";
legendItems.forEach((d, i) => {
  const g = svg.append("g").attr("transform", `translate(390,${31 + i * 120})`);
  g.append("rect").attr("width", 89).attr("height", 40).attr("fill", d.color);
  g.append("text").attr("x", 121).attr("y", 49).attr("font-family", legFont)
    .attr("font-size", 94).attr("fill", "#231f20").text(d.label);
});
</script>
</body></html>
